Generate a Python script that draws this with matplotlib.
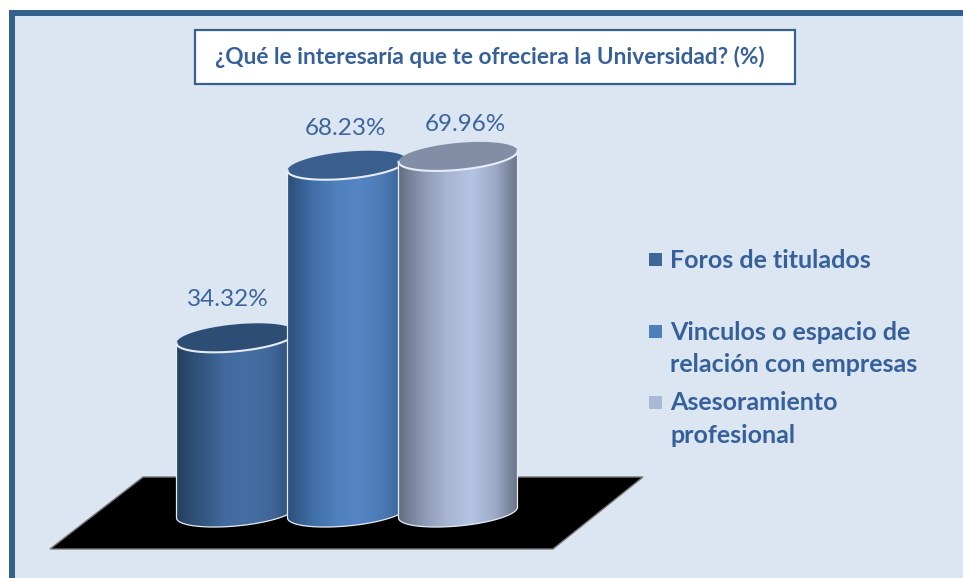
import numpy as np
import matplotlib
matplotlib.use('Agg')
import matplotlib.pyplot as plt
from matplotlib.colors import LinearSegmentedColormap
from matplotlib.patches import Polygon, Rectangle

title = '¿Qué le interesaría que te ofreciera la Universidad? (%)'
categories = ['Foros de titulados',
              'Vinculos o espacio de\nrelación con empresas',
              'Asesoramiento\nprofesional']
values = [34.32, 68.23, 69.96]

W, H = 963, 578
PX_PER_UNIT = 5.09   # vertical px per percentage point
BASE_Y = 512.5       # px row of the value axis zero
STEP = 111           # px between cylinders
FIRST_X = 236
HALF_W = 59.5
ELL_B = 13.5
SLOPE = 0.09

BORDER = '#35618F'
PANEL = '#DCE6F2'
TEXT = '#35609A'

body_cols = [
    ['#24405F', '#33557F', '#426B9F', '#456FA3', '#3F6698', '#2B4A6E'],
    ['#2C4F7A', '#3F6DA5', '#4F80BC', '#5585C5', '#4A79B3', '#38608F'],
    ['#656F83', '#8D99B3', '#A8B5D3', '#B4C4E2', '#9DABC8', '#667183'],
]
top_cols = ['#2E4D75', '#3A5F8E', '#828EA6']
swatch_cols = ['#3E6797', '#4F7FBB', '#AAB9D6']
label_dx = [-8, -2, 7]
label_dy = [38, 37, 32]
legend_rows = [260, 332, 403]

plt.rcParams['font.family'] = ['Lato', 'DejaVu Sans']
fig = plt.figure(figsize=(W / 100, H / 100), dpi=100, facecolor='white')


def fx(px):
    return px / W


def fy(py):
    return 1 - py / H


# frame: left and top only, the picture is cut off at right and bottom
fig.add_artist(Rectangle((fx(9), 0), fx(W - 9), fy(10), transform=fig.transFigure,
                         fc=BORDER, ec='none', zorder=0))
fig.add_artist(Rectangle((fx(15), 0), fx(W - 15), fy(16), transform=fig.transFigure,
                         fc=PANEL, ec='none', zorder=0.5))

# value axis covers the whole figure, hidden
ax = fig.add_axes([0, 0, 1, 1], zorder=2)
ax.patch.set_alpha(0)
ax.axis('off')

a = HALF_W / STEP
b = ELL_B / PX_PER_UNIT
s = SLOPE * STEP / PX_PER_UNIT


def ellipse(cx, cy, t):
    dx = a * np.cos(t)
    return np.column_stack([cx + dx, cy + b * np.sin(t) + s * dx])


# floor
floor_px = [(143, 477), (643, 477), (553, 549), (50, 549)]
floor = [((x - FIRST_X) / STEP, (BASE_Y - y) / PX_PER_UNIT) for x, y in floor_px]
ax.add_patch(Polygon(floor, closed=True, fc='black', ec='#777777', lw=1, zorder=1))

t_low = np.linspace(np.pi, 2 * np.pi, 80)
t_all = np.linspace(0, 2 * np.pi, 160)
RIM = '#E6ECF5'

for i, v in enumerate(values):
    z = 2 + i
    lower = ellipse(i, 0, t_low)
    top_low = ellipse(i, v, t_low)
    outline = np.vstack([[top_low[0]], lower, [top_low[-1]]])
    clip = Polygon(outline, closed=True, transform=ax.transData, fc='none', ec='none')
    ax.add_patch(clip)
    cmap = LinearSegmentedColormap.from_list('c%d' % i, body_cols[i])
    grad = np.linspace(0, 1, 256).reshape(1, -1)
    im = ax.imshow(grad, cmap=cmap, aspect='auto', zorder=z,
                   extent=[i - a, i + a, -10, v + 10])
    im.set_clip_path(clip)
    ax.plot(outline[:, 0], outline[:, 1], color=RIM, lw=0.9, zorder=z)
    ax.add_patch(Polygon(ellipse(i, v, t_all), closed=True, fc=top_cols[i], ec='none', zorder=z))
    ax.plot(top_low[:, 0], top_low[:, 1], color=RIM, lw=1.5, zorder=z)
    ax.annotate(f'{v:.2f}%', (i, v), xytext=(label_dx[i] * 0.72, label_dy[i] * 0.72),
                textcoords='offset points', ha='center', va='center',
                fontsize=17.5, color='#3B659A', zorder=10)

ax.set_xlim(-FIRST_X / STEP, (W - FIRST_X) / STEP)
ax.set_ylim((BASE_Y - H) / PX_PER_UNIT, BASE_Y / PX_PER_UNIT)

# title box
fig.add_artist(Rectangle((fx(195), fy(84)), fx(600), 54 / H, transform=fig.transFigure,
                         fc='white', ec=BORDER, lw=1.6, zorder=3))
fig.text(fx(490), fy(57), title, ha='center', va='center', fontsize=16.3,
         fontweight='bold', color=TEXT, zorder=4)

# legend
for row, name, col in zip(legend_rows, categories, swatch_cols):
    fig.add_artist(Rectangle((fx(649), fy(row + 6.5 - 1)), 13 / W, 13 / H,
                             transform=fig.transFigure, fc=col, ec='none', zorder=3))
    for k, line in enumerate(name.split('\n')):
        fig.text(fx(670), fy(row + k * 32.5), line, ha='left', va='center', fontsize=18,
                 fontweight='bold', color=TEXT, zorder=4)

fig.savefig('out.png', dpi=100)
